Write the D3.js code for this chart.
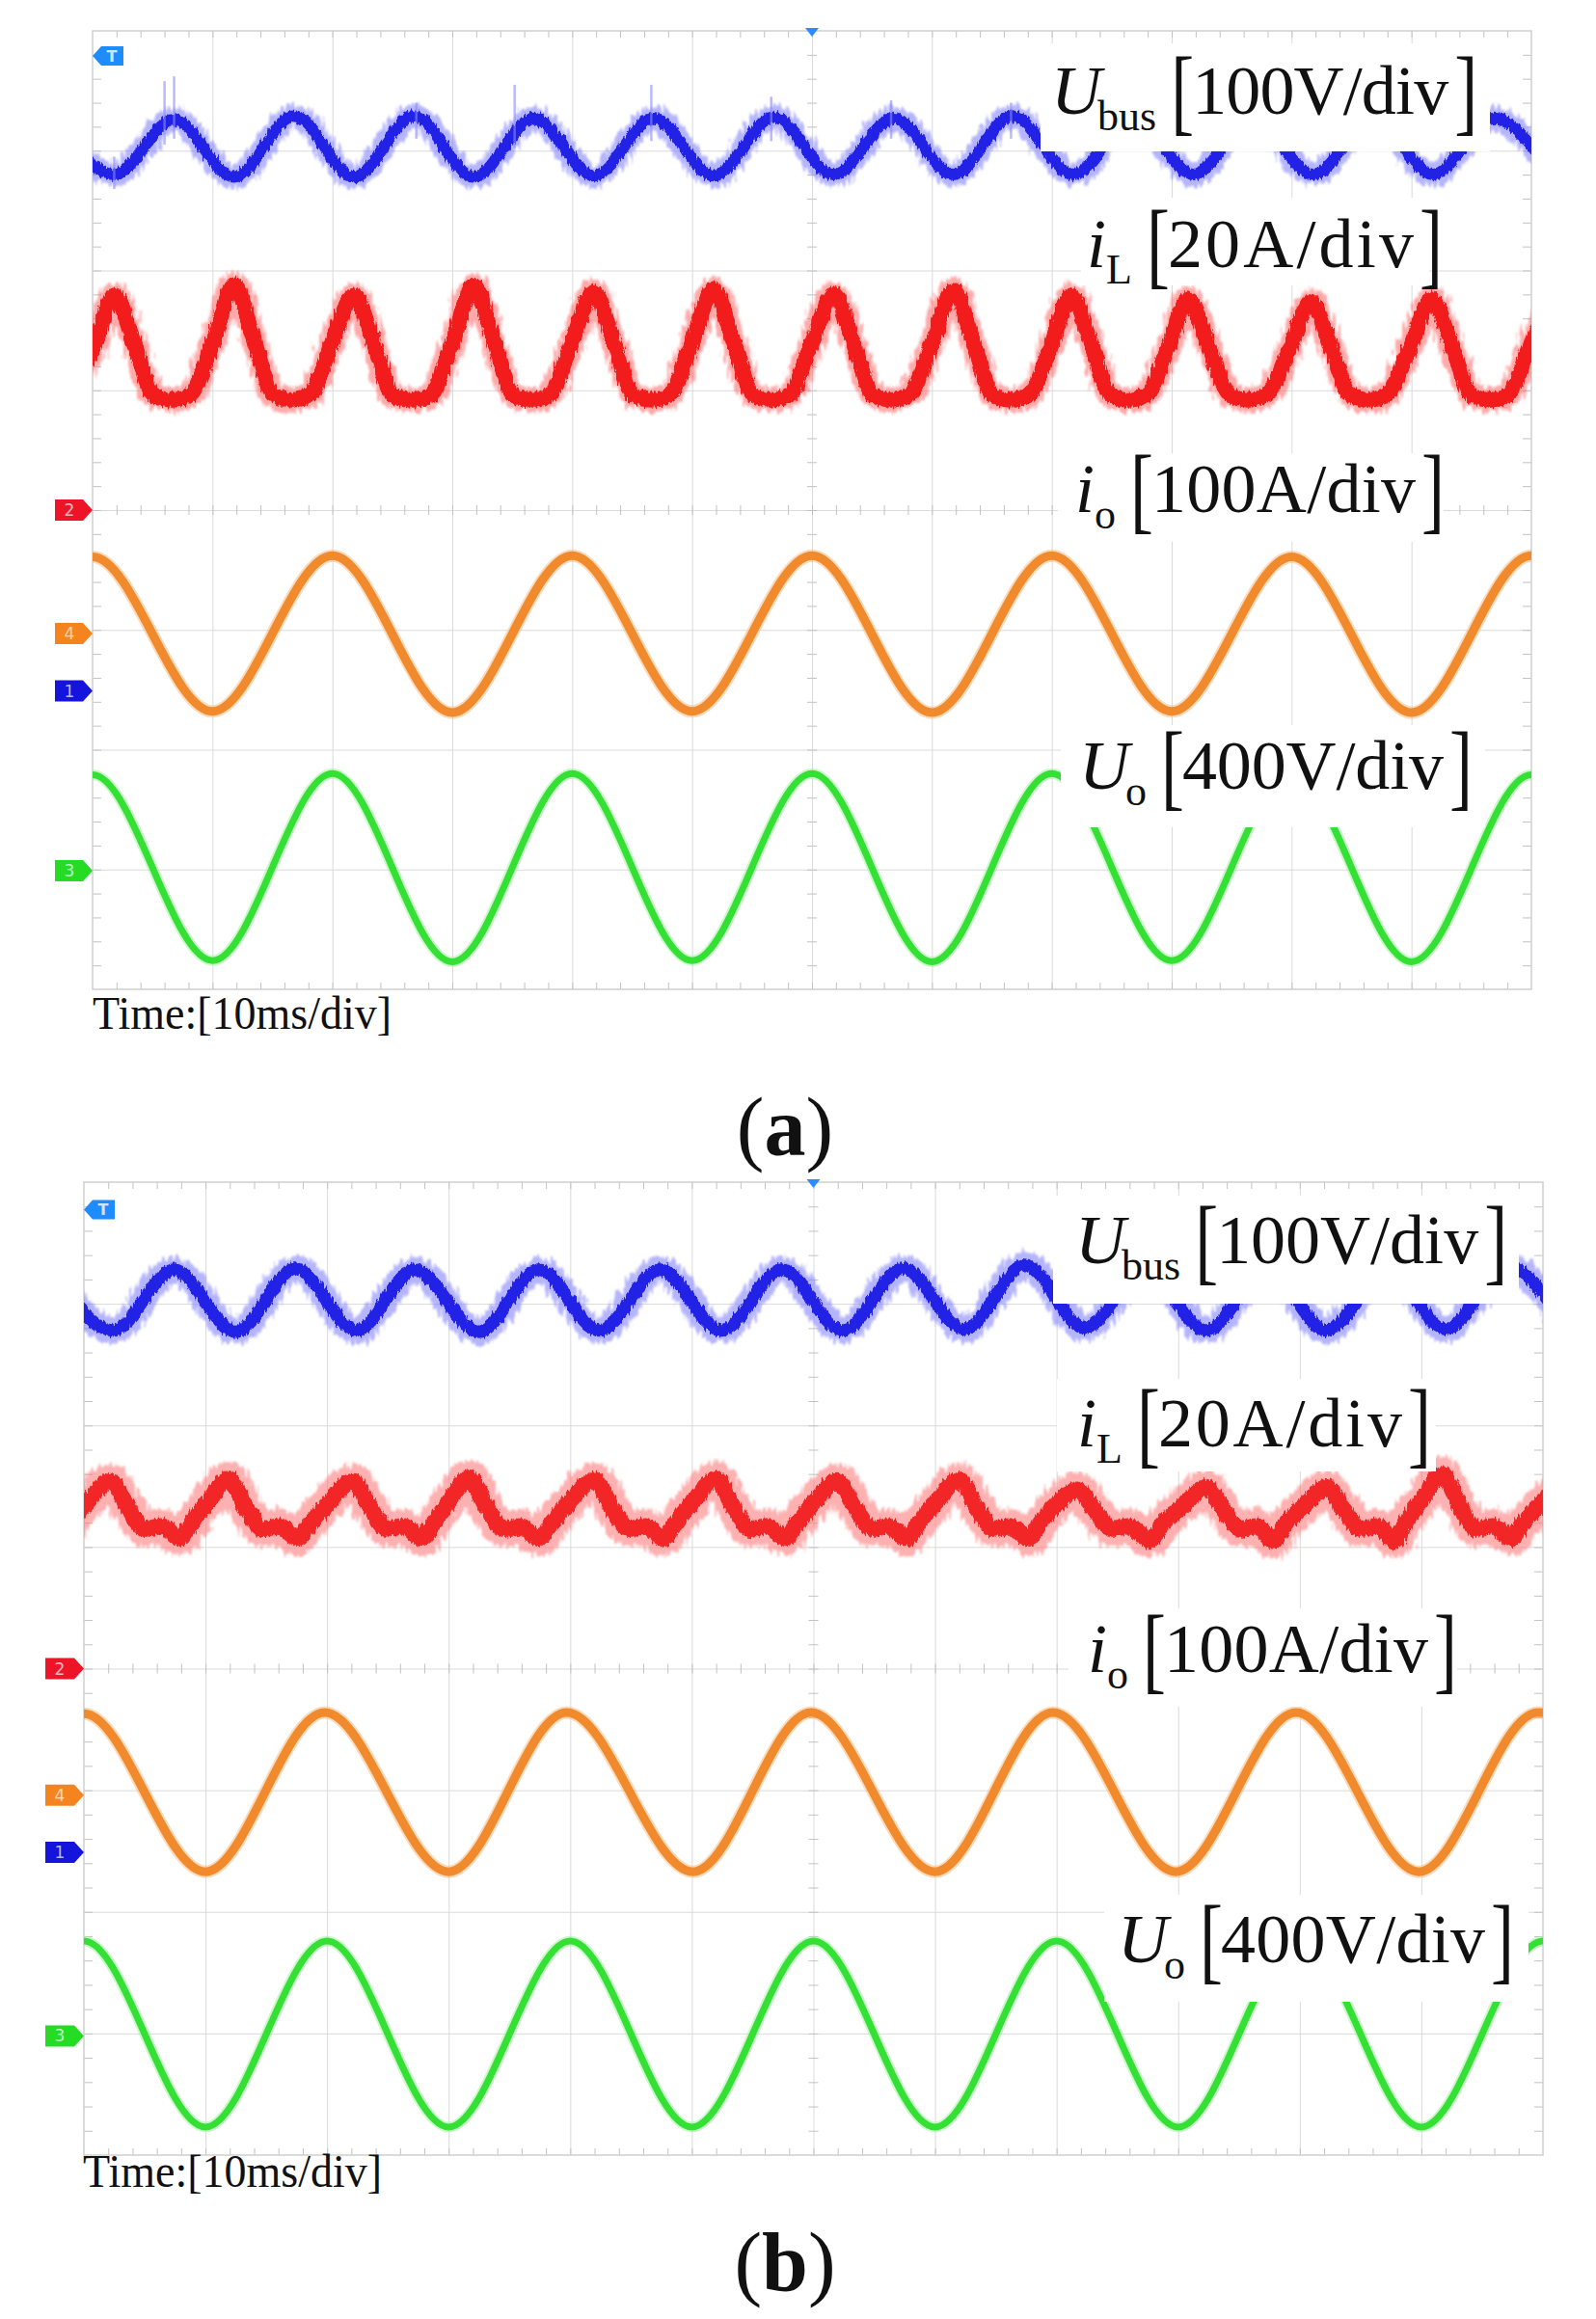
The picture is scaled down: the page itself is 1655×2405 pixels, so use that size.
<!DOCTYPE html>
<html>
<head>
<meta charset="utf-8">
<script src="https://cdn.jsdelivr.net/npm/d3@7"></script>
<style>
  html, body { margin: 0; padding: 0; background: #fff; }
  svg { display: block; }
  text { font-family: "Liberation Serif", "Times New Roman", serif; fill: #111; }
</style>
</head>
<body>
<svg id="chart" width="1655" height="2405">
  <defs>
    <filter id="noise" x="-5%" y="-60%" width="110%" height="220%">
      <feTurbulence type="fractalNoise" baseFrequency="0.35 0.06" numOctaves="2" seed="3" result="t"/>
      <feDisplacementMap in="SourceGraphic" in2="t" scale="16" xChannelSelector="R" yChannelSelector="G" result="d"/>
      <feGaussianBlur in="d" stdDeviation="1.2"/>
    </filter>
    <filter id="noiseLight" x="-5%" y="-60%" width="110%" height="220%">
      <feTurbulence type="fractalNoise" baseFrequency="0.5 0.08" numOctaves="2" seed="7" result="t"/>
      <feDisplacementMap in="SourceGraphic" in2="t" scale="7" xChannelSelector="R" yChannelSelector="G" result="d"/>
      <feGaussianBlur in="d" stdDeviation="0.6"/>
    </filter>
  </defs>
</svg>
<script>
const X_DIVS = 12;
const Y_DIVS = 8;

// all traces: [time in div, level in div above the centre line]
const ubusA = [
  [-0.32, 3.27],
  [0.18, 2.80], [0.68, 3.26], [1.18, 2.78], [1.68, 3.29], [2.18, 2.78], [2.68, 3.29],
  [3.18, 2.78], [3.68, 3.27], [4.18, 2.79], [4.68, 3.27], [5.18, 2.79], [5.68, 3.28],
  [6.18, 2.80], [6.68, 3.27], [7.18, 2.80], [7.67, 3.29], [8.18, 2.80], [8.68, 3.27],
  [9.18, 2.80], [9.68, 3.27], [10.18, 2.80], [10.68, 3.27], [11.18, 2.80], [11.68, 3.27],
  [12.18, 2.80]
];
const spikesA = [
  [0.18, 2.95, 2.68], [0.60, 3.58, 3.05], [0.68, 3.62, 3.10], [2.70, 3.40, 3.10],
  [3.52, 3.55, 3.02], [4.66, 3.55, 3.08], [5.66, 3.45, 3.08], [6.66, 3.42, 3.10], [7.66, 3.40, 3.10]
];
const iLA = [
  [-0.37, 0.96], [0.0, 1.33],
  [0.18, 1.79], [0.35, 1.38], [0.51, 0.96], [0.66, 0.92], [0.81, 0.96], [0.99, 1.36],
  [1.18, 1.88], [1.35, 1.40], [1.51, 0.96], [1.66, 0.92], [1.81, 0.96], [1.99, 1.38],
  [2.18, 1.79], [2.35, 1.38], [2.51, 0.95], [2.66, 0.92], [2.81, 0.95], [2.99, 1.36],
  [3.18, 1.87], [3.35, 1.40], [3.51, 0.96], [3.66, 0.92], [3.81, 0.96], [3.99, 1.38],
  [4.18, 1.82], [4.35, 1.39], [4.51, 0.96], [4.66, 0.92], [4.81, 0.96], [4.99, 1.37],
  [5.18, 1.84], [5.35, 1.39], [5.51, 0.96], [5.66, 0.92], [5.81, 0.96], [5.99, 1.37],
  [6.18, 1.80], [6.35, 1.38], [6.51, 0.96], [6.66, 0.92], [6.81, 0.96], [6.99, 1.36],
  [7.18, 1.83], [7.35, 1.39], [7.51, 0.96], [7.66, 0.92], [7.81, 0.96], [7.99, 1.36],
  [8.16, 1.79], [8.33, 1.38], [8.49, 0.96], [8.64, 0.92], [8.79, 0.96], [8.97, 1.35],
  [9.14, 1.76], [9.31, 1.36], [9.49, 0.96], [9.64, 0.92], [9.79, 0.96], [9.98, 1.34],
  [10.16, 1.74], [10.33, 1.35], [10.49, 0.96], [10.64, 0.92], [10.79, 0.96], [10.98, 1.34],
  [11.17, 1.76], [11.34, 1.36], [11.50, 0.96], [11.65, 0.92], [11.80, 0.96], [11.98, 1.35],
  [12.17, 1.78]
];
const ioA = [
  [-1, -1.68], [0, -0.39], [1, -1.68], [2, -0.38], [3, -1.69], [4, -0.38], [5, -1.68],
  [6, -0.38], [7, -1.69], [8, -0.38], [9, -1.68], [10, -0.39], [11, -1.69], [12, -0.38], [13, -1.68]
];
const uoA = [
  [-1, -3.76], [0, -2.21], [1, -3.76], [2, -2.20], [3, -3.77], [4, -2.20], [5, -3.76],
  [6, -2.20], [7, -3.77], [8, -2.20], [9, -3.76], [10, -2.20], [11, -3.77], [12, -2.21], [13, -3.76]
];

const ubusB = [
  [-0.26, 3.28],
  [0.24, 2.78], [0.74, 3.28], [1.25, 2.77], [1.74, 3.29], [2.24, 2.78], [2.72, 3.28],
  [3.25, 2.77], [3.74, 3.28], [4.24, 2.78], [4.74, 3.28], [5.24, 2.78], [5.74, 3.28],
  [6.24, 2.78], [6.74, 3.29], [7.24, 2.79], [7.74, 3.32], [8.23, 2.80], [8.73, 3.28],
  [9.23, 2.78], [9.73, 3.28], [10.22, 2.78], [10.72, 3.28], [11.20, 2.79], [11.70, 3.31],
  [12.20, 2.79]
];
const iLB = [
  [-0.20, 1.07], [-0.12, 1.18], [0.02, 1.36],
  [0.22, 1.54], [0.36, 1.33], [0.50, 1.15], [0.64, 1.17], [0.79, 1.07], [0.88, 1.19], [1.02, 1.37],
  [1.19, 1.56], [1.33, 1.33], [1.47, 1.15], [1.61, 1.17], [1.76, 1.07], [1.86, 1.19], [2.01, 1.36],
  [2.21, 1.54], [2.35, 1.33], [2.49, 1.15], [2.63, 1.17], [2.78, 1.07], [2.87, 1.19], [3.00, 1.37],
  [3.17, 1.57], [3.31, 1.33], [3.45, 1.15], [3.59, 1.17], [3.74, 1.07], [3.84, 1.19], [3.99, 1.37],
  [4.20, 1.55], [4.34, 1.33], [4.48, 1.15], [4.62, 1.17], [4.77, 1.07], [4.86, 1.19], [5.00, 1.36],
  [5.20, 1.56], [5.34, 1.33], [5.48, 1.15], [5.62, 1.17], [5.77, 1.07], [5.86, 1.19], [6.00, 1.36],
  [6.20, 1.54], [6.34, 1.33], [6.48, 1.15], [6.62, 1.17], [6.77, 1.07], [6.86, 1.19], [7.00, 1.36],
  [7.20, 1.55], [7.34, 1.33], [7.48, 1.15], [7.62, 1.17], [7.77, 1.07], [7.86, 1.19], [7.99, 1.34],
  [8.17, 1.47], [8.31, 1.31], [8.45, 1.15], [8.59, 1.17], [8.77, 1.06], [8.87, 1.19], [9.03, 1.33],
  [9.23, 1.49], [9.37, 1.31], [9.51, 1.15], [9.65, 1.17], [9.78, 1.05], [9.88, 1.19], [10.03, 1.33],
  [10.22, 1.49], [10.36, 1.31], [10.50, 1.15], [10.64, 1.17], [10.78, 1.05], [10.86, 1.19], [11.00, 1.38],
  [11.17, 1.60], [11.31, 1.35], [11.45, 1.15], [11.59, 1.17], [11.74, 1.07], [11.83, 1.19], [11.98, 1.36],
  [12.20, 1.54]
];
const ioB = [
  [-1, -1.67], [0, -0.37], [1.0, -1.67], [1.98, -0.36], [3.0, -1.67], [3.97, -0.36], [5.01, -1.67],
  [5.98, -0.36], [7.0, -1.67], [7.97, -0.36], [8.98, -1.67], [9.97, -0.36], [10.98, -1.67],
  [11.96, -0.36], [13, -1.67]
];
const uoB = [
  [-1, -3.77], [0, -2.24], [1, -3.77], [2, -2.24], [3, -3.77], [4, -2.24], [5, -3.77],
  [6, -2.24], [7, -3.77], [8, -2.24], [9, -3.77], [10, -2.24], [11, -3.77], [12, -2.24], [13, -3.77]
];

const labelTexts = [
  ['U', 'bus', '100V/div'],
  ['i', 'L', '20A/div'],
  ['i', 'o', '100A/div'],
  ['U', 'o', '400V/div']
];
// channel ground markers: [channel, level in div]
const markersA = [['2', 0], ['4', -1.03], ['1', -1.51], ['3', -3.01]];
const markersB = [['2', 0], ['4', -1.04], ['1', -1.51], ['3', -3.02]];
const trigLevelA = 3.79;
const trigLevelB = 3.775;
const timeText = 'Time:[10ms/div]';

const traceStyles = [
  { core: '#2424e6', coreW: 12, halo: '#8484ff', haloW: 24, haloOp: 0.6, noisy: true },
  { core: '#f21a1a', coreW: 16, halo: '#ff6262', haloW: 26, haloOp: 0.55, noisy: true },
  { core: '#f08a2c', coreW: 9, halo: '#f8b878', haloW: 13, haloOp: 0.5, noisy: false },
  { core: '#35e035', coreW: 7, halo: '#9af29a', haloW: 11, haloOp: 0.5, noisy: false }
];
const traceStylesB = [
  { core: '#2424e6', coreW: 13, halo: '#8484ff', haloW: 27, haloOp: 0.6, noisy: true },
  { core: '#f22626', coreW: 17, halo: '#ff7070', haloW: 36, haloOp: 0.55, noisy: true },
  traceStyles[2],
  traceStyles[3]
];
const markerColors = { '1': '#1414dc', '2': '#ee1428', '3': '#24dc24', '4': '#f5841f' };

const panels = [
  {
    id: 'a', frame: [96, 32, 1588, 1026], traces: [ubusA, iLA, ioA, uoA], styles: traceStyles,
    spikes: spikesA, markers: markersA, trig: trigLevelA, markerX: 57,
    labelPos: [[1090, 118], [1127, 277], [1115, 531], [1119, 818]],
    valueLen: [266, 255, 274, 271],
    boxes: [[1079, 45, 1545, 157], [1121, 205, 1482, 296], [1097, 470, 1497, 562], [1100, 752, 1540, 858]],
    timePos: [96, 1067], capY: 1198
  },
  {
    id: 'b', frame: [87, 1226, 1600, 2235], traces: [ubusB, iLB, ioB, uoB], styles: traceStylesB,
    spikes: [], markers: markersB, trig: trigLevelB, markerX: 47,
    labelPos: [[1115, 1310], [1117, 1500], [1128, 1734], [1159, 2035]],
    valueLen: [272, 253, 274, 274],
    boxes: [[1092, 1240, 1575, 1352], [1096, 1430, 1489, 1526], [1108, 1668, 1511, 1770], [1145, 1965, 1585, 2076]],
    timePos: [86, 2268], capY: 2375
  }
];

const svg = d3.select('#chart');

function styleAxis(sel, color) {
  sel.select('.domain').remove();
  sel.selectAll('.tick line').attr('stroke', color).attr('stroke-width', 1);
}

function drawPanel(p) {
  const [x0, y0, x1, y1] = p.frame;
  const x = d3.scaleLinear().domain([0, X_DIVS]).range([x0, x1]);
  const y = d3.scaleLinear().domain([-Y_DIVS / 2, Y_DIVS / 2]).range([y1, y0]);
  const g = svg.append('g');

  g.append('clipPath').attr('id', 'clip-' + p.id).append('rect')
    .attr('x', x0).attr('y', y0).attr('width', x1 - x0).attr('height', y1 - y0);

  // major grid
  g.append('g').attr('transform', `translate(0,${y0})`)
    .call(d3.axisBottom(x).tickValues(d3.range(1, X_DIVS)).tickSize(y1 - y0).tickFormat(''))
    .call(s => styleAxis(s, '#dadada'));
  g.append('g').attr('transform', `translate(${x0},0)`)
    .call(d3.axisRight(y).tickValues(d3.range(-Y_DIVS / 2 + 1, Y_DIVS / 2)).tickSize(x1 - x0).tickFormat(''))
    .call(s => styleAxis(s, '#dadada'));

  // minor ticks on border and centre axes
  const minorX = d3.range(1, X_DIVS * 5).map(i => i / 5);
  const minorY = d3.range(-Y_DIVS / 2 * 5 + 1, Y_DIVS / 2 * 5).map(i => i / 5);
  const tickColor = '#c2c2c2';
  g.append('g').attr('transform', `translate(0,${y0})`)
    .call(d3.axisBottom(x).tickValues(minorX).tickSize(7).tickFormat('')).call(s => styleAxis(s, tickColor));
  g.append('g').attr('transform', `translate(0,${y1})`)
    .call(d3.axisTop(x).tickValues(minorX).tickSize(7).tickFormat('')).call(s => styleAxis(s, tickColor));
  g.append('g').attr('transform', `translate(${x0},0)`)
    .call(d3.axisRight(y).tickValues(minorY).tickSize(9).tickFormat('')).call(s => styleAxis(s, tickColor));
  g.append('g').attr('transform', `translate(${x1},0)`)
    .call(d3.axisLeft(y).tickValues(minorY).tickSize(9).tickFormat('')).call(s => styleAxis(s, tickColor));
  g.append('g').attr('transform', `translate(0,${y(0) - 5})`)
    .call(d3.axisBottom(x).tickValues(minorX).tickSize(10).tickFormat('')).call(s => styleAxis(s, tickColor));
  g.append('g').attr('transform', `translate(${x(X_DIVS / 2) - 5},0)`)
    .call(d3.axisRight(y).tickValues(minorY).tickSize(10).tickFormat('')).call(s => styleAxis(s, tickColor));

  g.append('rect').attr('x', x0).attr('y', y0).attr('width', x1 - x0).attr('height', y1 - y0)
    .attr('fill', 'none').attr('stroke', '#cfcfcf').attr('stroke-width', 1.5);

  // traces
  const line = d3.line().x(d => x(d[0])).y(d => y(d[1])).curve(d3.curveMonotoneX);
  const tg = g.append('g').attr('clip-path', `url(#clip-${p.id})`);
  p.traces.forEach((data, i) => {
    const st = p.styles[i];
    tg.append('g').attr('filter', st.noisy ? 'url(#noise)' : null)
      .append('path').datum(data).attr('d', line).attr('fill', 'none')
      .attr('stroke', st.halo).attr('stroke-width', st.haloW).attr('stroke-opacity', st.haloOp)
      .attr('stroke-linejoin', 'round');
    tg.append('g').attr('filter', st.noisy ? 'url(#noiseLight)' : null)
      .append('path').datum(data).attr('d', line).attr('fill', 'none')
      .attr('stroke', st.core).attr('stroke-width', st.coreW).attr('stroke-linejoin', 'round');
  });
  tg.selectAll('line.spike').data(p.spikes).join('line')
    .attr('x1', d => x(d[0])).attr('x2', d => x(d[0]))
    .attr('y1', d => y(d[1])).attr('y2', d => y(d[2]))
    .attr('stroke', '#8a8aff').attr('stroke-width', 2.5).attr('stroke-opacity', 0.6);

  // labels on white boxes
  labelTexts.forEach((parts, i) => drawLabel(g, parts, p.labelPos[i], p.boxes[i], p.valueLen[i]));

  // channel markers
  const mk = g.append('g');
  p.markers.forEach(([ch, lvl]) => {
    const cy = y(lvl);
    const mx = p.markerX;
    mk.append('path')
      .attr('d', `M${mx},${cy - 11}H${x0 - 10}L${x0},${cy}L${x0 - 10},${cy + 11}H${mx}Z`)
      .attr('fill', markerColors[ch]);
    mk.append('text').attr('x', mx + 15).attr('y', cy + 6)
      .style('font-family', 'DejaVu Sans, sans-serif').style('font-size', '17px')
      .style('fill', '#fff').style('fill-opacity', 0.7).attr('text-anchor', 'middle').text(ch);
  });
  // trigger level (left-pointing) and trigger position (top)
  const ty = y(p.trig);
  mk.append('path')
    .attr('d', `M${x0},${ty}L${x0 + 9},${ty - 10}H${x0 + 32}V${ty + 10}H${x0 + 9}Z`)
    .attr('fill', '#1e8cff');
  mk.append('text').attr('x', x0 + 20).attr('y', ty + 6).attr('text-anchor', 'middle')
    .style('font-family', 'DejaVu Sans, sans-serif').style('font-size', '16px').style('font-weight', 'bold')
    .style('fill', '#fff').style('fill-opacity', 0.8).text('T');
  const cx = x(X_DIVS / 2);
  mk.append('path').attr('d', `M${cx - 7},${y0 - 3}H${cx + 7}L${cx},${y0 + 6}Z`).attr('fill', '#2a8cff');

  // time base and caption
  g.append('text').attr('x', p.timePos[0]).attr('y', p.timePos[1])
    .attr('font-size', 48).attr('textLength', 310).attr('lengthAdjust', 'spacingAndGlyphs')
    .text(timeText);
  const cap = g.append('text').attr('x', 814).attr('y', p.capY).attr('font-size', 86)
    .attr('text-anchor', 'middle');
  cap.append('tspan').text('(');
  cap.append('tspan').attr('font-weight', 'bold').text(p.id);
  cap.append('tspan').text(')');
}

function drawLabel(g, parts, pos, box, valueLen) {
  const [v, sub, val] = parts;
  const [lx, ly] = pos;
  g.append('rect').attr('x', box[0]).attr('y', box[1])
    .attr('width', box[2] - box[0]).attr('height', box[3] - box[1]).attr('fill', '#fff');
  const t1 = g.append('text').attr('x', lx).attr('y', ly).attr('font-size', 72)
    .attr('font-style', 'italic').text(v);
  const w1 = t1.node().getComputedTextLength();
  const sx = lx + w1 + (v === 'U' ? -4 : 0);
  const t2 = g.append('text').attr('x', sx).attr('y', ly + 17).attr('font-size', 44).text(sub);
  const bx = sx + t2.node().getComputedTextLength() + 15;
  g.append('text').attr('transform', `translate(${bx},${ly + 10}) scale(1,1.37)`)
    .attr('font-size', 72).text('[');
  const vx = bx + 22;
  g.append('text').attr('x', vx).attr('y', ly).attr('font-size', 72)
    .attr('textLength', valueLen).attr('lengthAdjust', 'spacing').text(val);
  const ex = vx + valueLen + 6;
  g.append('text').attr('transform', `translate(${ex},${ly + 10}) scale(1,1.37)`)
    .attr('font-size', 72).text(']');
}

panels.forEach(drawPanel);
</script>
</body>
</html>
